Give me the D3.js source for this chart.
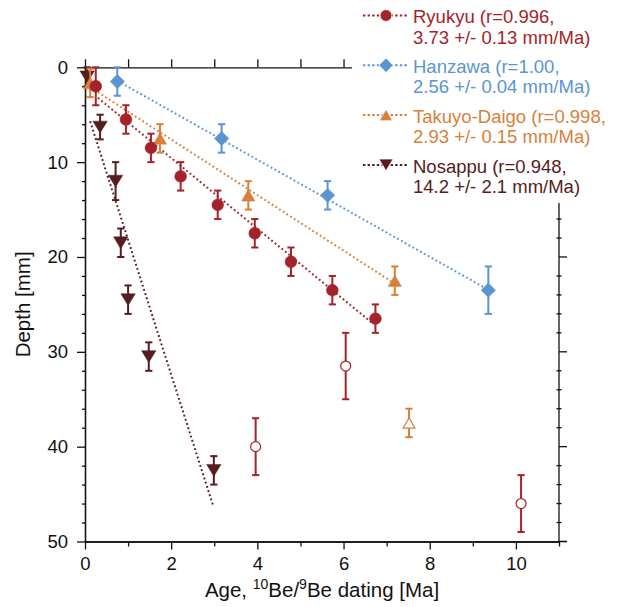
<!DOCTYPE html>
<html>
<head>
<meta charset="utf-8">
<script src="https://cdn.jsdelivr.net/npm/d3@7"></script>
<style>
  html, body { margin: 0; padding: 0; background: #fff; }
  svg { display: block; font-family: "Liberation Sans", Arial, Helvetica, sans-serif; }
</style>
</head>
<body>
<svg id="chart" width="619" height="607"></svg>
<script>
// ---- Data: depth of weathering front vs. 10Be/9Be age ----
const seriesNames = ["Ryukyu", "Hanzawa", "Takuyo-Daigo", "Nosappu"];
const seriesColors = ["#a4232b", "#5b95d1", "#d97f3a", "#561c20"];
const correlation = ["0.996", "1.00", "0.998", "0.948"];
const rateLabels = ["3.73", "2.56", "2.93", "14.2"];
const rateErrLabels = ["0.13", "0.04", "0.15", "2.1"];
const rates = [3.73, 2.56, 2.93, 14.2];           // mm/Ma, slope of each fit
const fitIntercepts = [2.1, -0.5, 1.75, 4.0];     // mm
const fitAgeStart = [0.3, 0.75, 0.3, 0.12];       // Ma
const fitAgeEnd = [6.65, 9.36, 7.1, 2.98];        // Ma

// Ryukyu
const ryukyuAge = [0.25, 0.95, 1.53, 2.22, 3.08, 3.94, 4.78, 5.74, 6.74];
const ryukyuDepth = [2.0, 5.5, 8.5, 11.5, 14.5, 17.5, 20.5, 23.5, 26.5];
const ryukyuErr = [2.0, 1.5, 1.5, 1.5, 1.5, 1.5, 1.5, 1.5, 1.5];
const ryukyuOutAge = [3.96, 6.05, 10.12];
const ryukyuOutDepth = [40.0, 31.5, 46.0];
const ryukyuOutErr = [3.0, 3.5, 3.0];

// Hanzawa
const hanzawaAge = [0.75, 3.17, 5.63, 9.36];
const hanzawaDepth = [1.5, 7.5, 13.5, 23.5];
const hanzawaErr = [1.5, 1.5, 1.5, 2.5];

// Takuyo-Daigo
const takuyoAge = [0.12, 1.74, 3.79, 7.19];
const takuyoDepth = [1.65, 7.5, 13.5, 22.5];
const takuyoErr = [1.5, 1.5, 1.5, 1.5];
const takuyoOutAge = [7.52];
const takuyoOutDepth = [37.5];
const takuyoOutErr = [1.5];

// Nosappu
const nosappuAge = [0.05, 0.35, 0.71, 0.83, 1.0, 1.48, 2.99];
const nosappuDepth = [1.0, 6.3, 12.0, 18.5, 24.5, 30.5, 42.5];
const nosappuErr = [1.0, 1.3, 2.0, 1.5, 1.5, 1.5, 1.5];

// Axis ticks
const ageMajorTicks = [0, 2, 4, 6, 8, 10];
const ageMinorTicks = [1, 3, 5, 7, 9, 11];
const ageTopTicks = [0, 1, 2, 3, 4, 5, 6];
const depthMajorTicks = [0, 10, 20, 30, 40, 50];
const depthMinorTicks = d3.range(2, 50, 2).filter(d => d % 10 !== 0);

// ---- Layout ----
const svg = d3.select("#chart");
const plotLeft = 85, plotRight = 559, plotTop = 67.3, plotBottom = 541.5;
const x = d3.scaleLinear().domain([0, 11]).range([plotLeft, plotRight]);
const y = d3.scaleLinear().domain([0, 50]).range([plotTop, plotBottom]);
const ink = "#111";

// ---- Axes ----
function styleAxis(g) {
  g.selectAll("path.domain").attr("stroke", ink).attr("stroke-width", 1.3);
  g.selectAll(".tick line").attr("stroke", ink).attr("stroke-width", 1.3);
  g.selectAll(".tick text").attr("fill", ink).attr("font-size", 18.5)
    .attr("font-family", "Liberation Sans, Arial, sans-serif");
}

// bottom
svg.append("g").attr("transform", `translate(0,${plotBottom})`)
  .call(d3.axisBottom(x).tickValues(ageMinorTicks).tickSize(5).tickSizeOuter(0).tickFormat(""))
  .call(styleAxis);
svg.append("g").attr("transform", `translate(0,${plotBottom})`)
  .call(d3.axisBottom(x).tickValues(ageMajorTicks).tickSize(8).tickSizeOuter(0).tickPadding(7).tickFormat(d3.format("d")))
  .call(styleAxis);
svg.append("line").attr("x1", plotRight).attr("x2", plotRight + 8).attr("y1", plotBottom).attr("y2", plotBottom)
  .attr("stroke", ink).attr("stroke-width", 1.3);

// left
svg.append("g").attr("transform", `translate(${plotLeft},0)`)
  .call(d3.axisLeft(y).tickValues(depthMinorTicks).tickSize(3).tickSizeOuter(0).tickFormat(""))
  .call(styleAxis);
svg.append("g").attr("transform", `translate(${plotLeft},0)`)
  .call(d3.axisLeft(y).tickValues(depthMajorTicks).tickSize(8).tickSizeOuter(0).tickPadding(9).tickFormat(d3.format("d")))
  .call(styleAxis);

// top
svg.append("g").attr("transform", `translate(0,${plotTop})`)
  .call(d3.axisTop(x).tickValues(ageTopTicks).tickSize(8).tickSizeOuter(0).tickFormat(""))
  .call(styleAxis);

// right (minor ticks straddle the line, majors point outward)
const rightG = svg.append("g");
rightG.append("line").attr("x1", plotRight).attr("x2", plotRight).attr("y1", plotTop).attr("y2", plotBottom)
  .attr("stroke", ink).attr("stroke-width", 1.3);
rightG.selectAll("line.minor").data(depthMinorTicks).join("line").attr("class", "minor")
  .attr("x1", plotRight - 2.5).attr("x2", plotRight + 2.5).attr("y1", d => y(d)).attr("y2", d => y(d))
  .attr("stroke", ink).attr("stroke-width", 1.3);
rightG.selectAll("line.major").data(depthMajorTicks).join("line").attr("class", "major")
  .attr("x1", plotRight).attr("x2", plotRight + 8).attr("y1", d => y(d)).attr("y2", d => y(d))
  .attr("stroke", ink).attr("stroke-width", 1.3);

// axis titles
const xTitle = svg.append("text").attr("x", (plotLeft + plotRight) / 2).attr("y", 597)
  .attr("text-anchor", "middle").attr("font-size", 20.5).attr("fill", ink);
xTitle.append("tspan").text("Age, ");
xTitle.append("tspan").attr("font-size", 14).attr("dy", -8).text("10");
xTitle.append("tspan").attr("dy", 8).text("Be/");
xTitle.append("tspan").attr("font-size", 14).attr("dy", -8).text("9");
xTitle.append("tspan").attr("dy", 8).text("Be dating [Ma]");

svg.append("text").attr("transform", `translate(30,${(plotTop + plotBottom) / 2}) rotate(-90)`)
  .attr("text-anchor", "middle").attr("font-size", 20.5).attr("fill", ink).text("Depth [mm]");

// ---- Marker shapes ----
function markerPath(kind, s) {
  const p = d3.path();
  if (kind === "circle") {
    p.arc(0, 0, s, 0, 2 * Math.PI);
  } else if (kind === "diamond") {
    p.moveTo(0, -s); p.lineTo(s, 0); p.lineTo(0, s); p.lineTo(-s, 0); p.closePath();
  } else if (kind === "up") {
    p.moveTo(0, -s * 0.82); p.lineTo(s * 0.95, s * 0.82); p.lineTo(-s * 0.95, s * 0.82); p.closePath();
  } else if (kind === "down") {
    p.moveTo(-s * 1.0, -s * 0.82); p.lineTo(s * 1.0, -s * 0.82); p.lineTo(0, s * 0.82); p.closePath();
  }
  return p.toString();
}

const groups = [
  { name: 0, kind: "circle", size: 5.9, age: ryukyuAge, depth: ryukyuDepth, err: ryukyuErr, open: false },
  { name: 0, kind: "circle", size: 5.0, age: ryukyuOutAge, depth: ryukyuOutDepth, err: ryukyuOutErr, open: true },
  { name: 1, kind: "diamond", size: 7.2, age: hanzawaAge, depth: hanzawaDepth, err: hanzawaErr, open: false },
  { name: 2, kind: "up", size: 7.0, age: takuyoAge, depth: takuyoDepth, err: takuyoErr, open: false },
  { name: 2, kind: "up", size: 6.2, age: takuyoOutAge, depth: takuyoOutDepth, err: takuyoOutErr, open: true },
  { name: 3, kind: "down", size: 7.2, age: nosappuAge, depth: nosappuDepth, err: nosappuErr, open: false }
];

// ---- Linear fits (dotted) ----
const fitG = svg.append("g");
seriesNames.forEach((n, i) => {
  const line = d3.line().x(d => x(d)).y(d => y(rates[i] * d + fitIntercepts[i]));
  fitG.append("path").datum([fitAgeStart[i], fitAgeEnd[i]])
    .attr("d", line).attr("fill", "none")
    .attr("stroke", seriesColors[i]).attr("stroke-width", 2)
    .attr("stroke-dasharray", "1.8,2.6");
});

// ---- Error bars and markers ----
const drawOrder = [5, 3, 4, 0, 1, 2];
drawOrder.forEach(gi => {
  const g = groups[gi];
  const col = seriesColors[g.name];
  const pts = g.age.map((a, k) => ({ a, d: g.depth[k], e: g.err[k] }));
  const eg = svg.append("g").attr("stroke", col).attr("stroke-width", 2);
  pts.forEach(p => {
    const cx = x(p.a);
    eg.append("line").attr("x1", cx).attr("x2", cx).attr("y1", y(p.d - p.e)).attr("y2", y(p.d + p.e));
    eg.append("line").attr("x1", cx - 3.6).attr("x2", cx + 3.6).attr("y1", y(p.d - p.e)).attr("y2", y(p.d - p.e));
    eg.append("line").attr("x1", cx - 3.6).attr("x2", cx + 3.6).attr("y1", y(p.d + p.e)).attr("y2", y(p.d + p.e));
  });
  svg.append("g").selectAll("path").data(pts).join("path")
    .attr("transform", p => `translate(${x(p.a)},${y(p.d)})`)
    .attr("d", markerPath(g.kind, g.size))
    .attr("fill", g.open ? "#fff" : col)
    .attr("stroke", col).attr("stroke-width", g.open ? 1.2 : 0.5);
});

// ---- Legend ----
const legend = svg.append("g");
legend.append("rect").attr("x", 352).attr("y", 0).attr("width", 267).attr("height", 203).attr("fill", "#fff");
const legendMarker = ["circle", "diamond", "up", "down"];
const legendSize = [5.9, 7.2, 7.0, 7.2];
seriesNames.forEach((n, i) => {
  const cy = 15.5 + i * 49.8;
  const base = 23.3 + i * 49.8;
  legend.append("line").attr("x1", 363).attr("x2", 408).attr("y1", cy).attr("y2", cy)
    .attr("stroke", seriesColors[i]).attr("stroke-width", 2).attr("stroke-dasharray", "2.4,2.2");
  legend.append("path").attr("transform", `translate(386,${cy})`)
    .attr("d", markerPath(legendMarker[i], legendSize[i])).attr("fill", seriesColors[i])
    .attr("stroke", "#fff").attr("stroke-width", 0.8);
  const t = legend.append("text").attr("x", 413).attr("y", base)
    .attr("font-size", 18.5).attr("fill", seriesColors[i]);
  t.append("tspan").attr("x", 413).text(`${n} (r=${correlation[i]},`);
  t.append("tspan").attr("x", 413).attr("dy", 20.2).text(`${rateLabels[i]} +/- ${rateErrLabels[i]} mm/Ma)`);
});
</script>
</body>
</html>
